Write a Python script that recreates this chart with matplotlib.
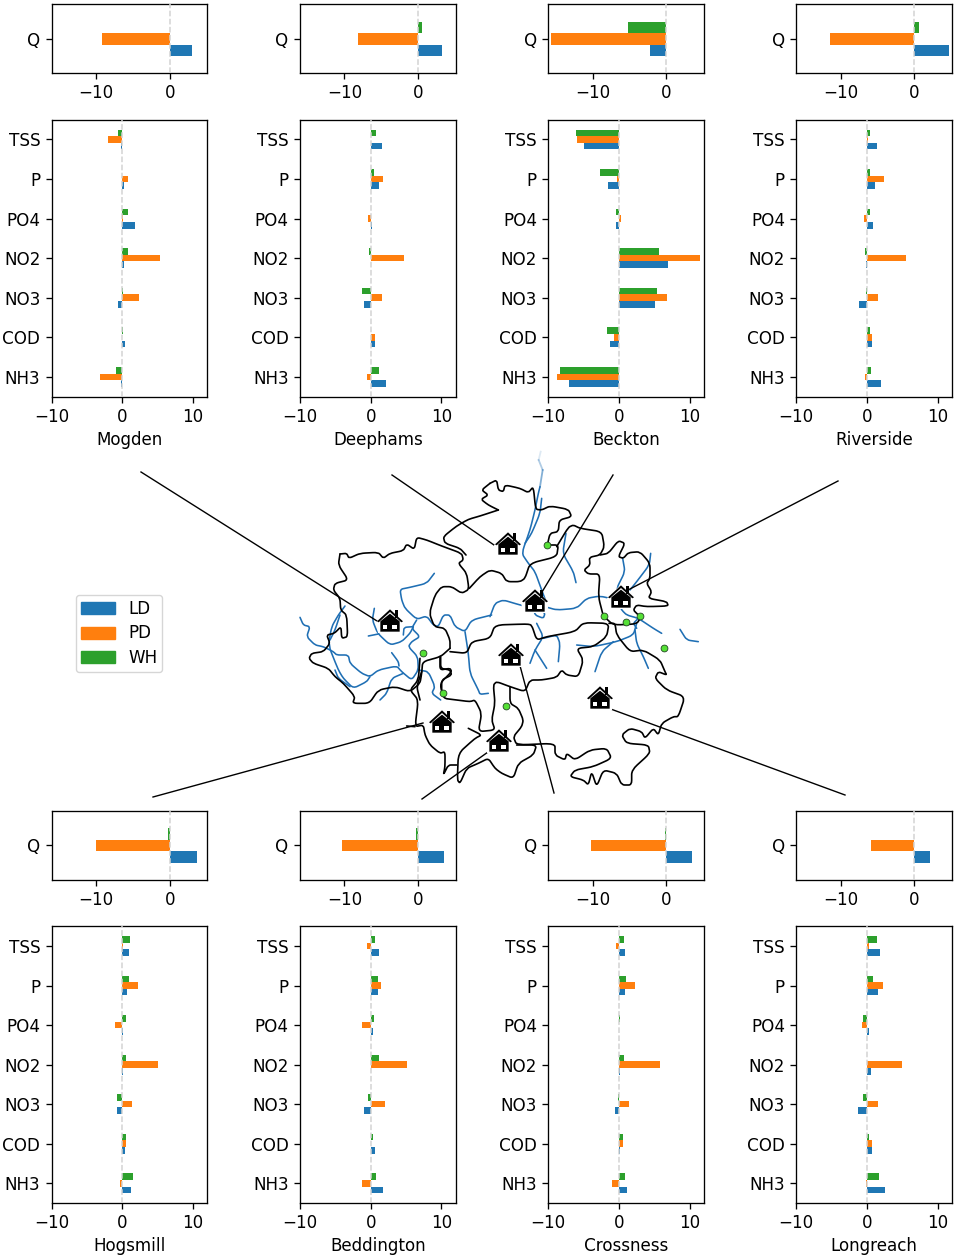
import matplotlib
matplotlib.use('Agg')
import matplotlib.pyplot as plt
from matplotlib.patches import Patch, PathPatch
from matplotlib.path import Path

plt.rcParams['font.size'] = 12.1
plt.rcParams['axes.linewidth'] = 0.95
plt.rcParams['axes.labelpad'] = 3.6
plt.rcParams['xtick.major.width'] = 0.95
plt.rcParams['ytick.major.width'] = 0.95
plt.rcParams['xtick.major.size'] = 4.1
plt.rcParams['ytick.major.size'] = 4.1
plt.rcParams['xtick.major.pad'] = 3.8
plt.rcParams['ytick.major.pad'] = 4.1

species = ['NH3', 'COD', 'NO3', 'NO2', 'PO4', 'P', 'TSS']
scenarios = ['LD', 'PD', 'WH']
colors = ['#1f77b4', '#ff7f0e', '#2ca02c']

# each q list is LD, PD, WH; the others follow the species order
mogden_q = [3.0, -9.2, 0.0]
mogden_ld = [-0.2, 0.4, -0.65, 0.2, 1.75, 0.25, -0.2]
mogden_pd = [-3.2, 0.0, 2.3, 5.3, 0.05, 0.75, -2.0]
mogden_wh = [-0.85, 0.05, 0.05, 0.85, 0.85, 0.0, -0.6]

deephams_q = [3.2, -8.1, 0.45]
deephams_ld = [2.1, 0.55, -0.95, 0.1, 0.2, 1.1, 1.6]
deephams_pd = [-0.55, 0.55, 1.55, 4.65, -0.4, 1.75, 0.05]
deephams_wh = [1.2, 0.05, -1.2, -0.2, 0.0, 0.5, 0.75]

beckton_q = [-2.3, -15.7, -5.2]
beckton_ld = [-7.1, -1.2, 5.15, 7.0, -0.4, -1.5, -5.0]
beckton_pd = [-8.75, -0.65, 6.8, 11.45, 0.25, -0.35, -6.0]
beckton_wh = [-8.3, -1.75, 5.35, 5.6, -0.45, -2.7, -6.15]

riverside_q = [4.65, -11.5, 0.65]
riverside_ld = [1.95, 0.7, -1.2, -0.1, 0.8, 1.1, 1.35]
riverside_pd = [-0.3, 0.75, 1.55, 5.45, -0.4, 2.35, 0.2]
riverside_wh = [0.5, 0.4, -0.1, -0.35, 0.4, 0.4, 0.4]

hogsmill_q = [3.65, -9.95, -0.3]
hogsmill_ld = [1.25, 0.3, -0.7, 0.05, 0.05, 0.7, 0.9]
hogsmill_pd = [-0.3, 0.45, 1.4, 5.0, -1.05, 2.2, 0.15]
hogsmill_wh = [1.45, 0.55, -0.8, 0.45, 0.55, 1.0, 1.1]

beddington_q = [3.5, -10.35, -0.3]
beddington_ld = [1.7, 0.55, -0.9, 0.05, 0.3, 1.0, 1.2]
beddington_pd = [-1.2, 0.05, 1.95, 5.1, -1.2, 1.4, -0.5]
beddington_wh = [0.7, 0.35, -0.35, 1.1, 0.4, 1.0, 0.55]

crossness_q = [3.5, -10.2, -0.2]
crossness_ld = [1.15, 0.2, -0.6, 0.2, 0.0, 0.8, 0.9]
crossness_pd = [-0.95, 0.6, 1.4, 5.8, 0.05, 2.25, -0.4]
crossness_wh = [0.9, 0.5, -0.2, 0.65, 0.15, 1.0, 0.75]

longreach_q = [2.05, -5.85, -0.05]
longreach_ld = [2.55, 0.7, -1.3, 0.5, 0.3, 1.5, 1.9]
longreach_pd = [-0.15, 0.75, 1.55, 5.0, -0.65, 2.25, 0.3]
longreach_wh = [1.75, 0.25, -0.5, 0.05, -0.55, 0.8, 1.35]

sites = [
    ('Mogden', mogden_q, mogden_ld, mogden_pd, mogden_wh),
    ('Deephams', deephams_q, deephams_ld, deephams_pd, deephams_wh),
    ('Beckton', beckton_q, beckton_ld, beckton_pd, beckton_wh),
    ('Riverside', riverside_q, riverside_ld, riverside_pd, riverside_wh),
    ('Hogsmill', hogsmill_q, hogsmill_ld, hogsmill_pd, hogsmill_wh),
    ('Beddington', beddington_q, beddington_ld, beddington_pd, beddington_wh),
    ('Crossness', crossness_q, crossness_ld, crossness_pd, crossness_wh),
    ('Longreach', longreach_q, longreach_ld, longreach_pd, longreach_wh),
]

west_origin = (295, 530)
north_origin = (490, 450)
south_origin = (410, 620)

west_boundaries = [
    [(135,72),(155,70),(162,85),(195,70),(250,67),(265,85),(285,70),(325,62),(335,42),(358,58),(365,22),(395,30),(440,48),(500,70),(505,90),(490,100),(515,130),(522,178),(500,190),(470,170),(440,170),(420,195),(403,250),(418,290),(450,295),(465,330),(465,355)],
    [(135,72),(130,105),(160,150),(120,160),(115,180),(135,205),(137,240),(155,255),(158,320),(140,325),(138,290),(118,310),(95,315),(105,340),(85,365),(50,370),(42,385),(55,400),(100,415),(120,440),(145,460),(180,500),(173,520),(223,520),(250,480),(300,470),(345,485),(375,460),(380,430),(383,395),(437,380),(465,355)],
    [(437,380),(437,415),(465,420),(470,435),(440,450),(440,480)],
    [(380,425),(365,470),(375,510)],
]
west_rivers = [
    [(15,262),(25,285),(45,290),(35,320),(60,345),(85,350),(115,365),(125,375),(160,375),(165,400),(200,430),(225,440),(250,420),(305,408),(320,425),(350,450),(370,420),(368,380),(340,350),(350,335),(375,320),(350,295),(365,270)],
    [(238,235),(232,270),(248,310),(285,345),(320,335),(345,310),(355,290)],
    [(220,318),(250,312)],
    [(418,130),(395,160),(345,172),(315,178),(320,210),(330,235),(365,268),(395,258),(415,285),(430,290),(445,255),(465,255),(480,290),(510,305),(530,270),(590,255)],
    [(325,315),(327,292),(355,290)],
    [(150,228),(130,255),(110,290),(100,345),(130,420),(145,445),(175,475),(215,455),(225,440)],
    [(135,255),(120,300),(105,330)],
    [(120,420),(130,445),(165,470)],
    [(290,368),(310,395),(312,408)],
    [(370,420),(400,425),(420,470),(410,490),(437,510)],
    [(325,430),(290,445),(275,490),(255,510)],
    [(510,305),(520,370),(525,430),(550,480),(555,493),(580,490)],
]

north_boundaries = [
    [(25,180),(-30,198),(-65,208),(-100,228),(-140,260),(-135,280),(-90,295),(-72,315)],
    [(0,100),(20,90),(25,120),(40,125),(45,105),(90,115),(115,128),(130,110),(137,178),(155,180),(180,168),(235,178),(245,200),(208,210),(205,245),(180,250),(172,285),(205,285),(200,320),(120,340),(105,385),(90,395),(50,395),(35,370),(0,360),(-30,380),(-62,415)],
    [(0,100),(-25,120),(-5,135),(-27,148),(-5,165),(25,180)],
    [(200,290),(235,232),(250,225),(270,235),(335,245),(343,290),(330,315),(298,322),(300,345),(282,360),(295,372),(330,372),(325,440),(340,498)],
    [(330,315),(355,310),(385,272),(405,280),(385,320),(400,325),(415,308),(450,305),(480,340),(480,385),(470,400),(485,425),(475,445),(530,455),(535,468),(470,470),(440,465),(430,480),(445,495)],
    [(340,498),(370,525),(440,522),(455,498)],
]
north_rivers = [
    [(150,110),(145,130),(135,180),(120,240),(95,310),(115,340),(135,365),(155,420),(170,460)],
    [(155,145),(150,190),(125,250),(105,280)],
    [(228,250),(218,310),(250,365),(258,398)],
    [(0,500),(15,460),(40,450),(80,462),(110,470),(165,470),(200,480),(260,475),(290,445),(330,438),(380,450),(395,480),(410,495),(445,505),(490,535),(515,550)],
    [(130,470),(135,495),(160,505),(165,490),(150,480)],
    [(398,325),(405,365),(380,415),(385,440)],
    [(482,310),(478,345),(440,395),(420,420)],
    [(445,505),(430,520),(440,535)],
]
river_head = [(152,5),(146,30),(158,60),(150,110)]

south_boundaries = [
    [(120,95),(170,100),(185,65),(240,55),(255,15),(350,12),(365,15),(380,60),(410,50),(495,35),(520,8),(597,10),(590,50),(550,80),(500,85),(520,120),(505,170),(470,165),(455,150),(440,172),(395,180),(360,180),(345,215),(300,200),(260,185),(250,195),(255,250),(245,300),(255,330),(205,335),(215,280),(195,240),(180,245),(140,240),(100,235),(90,190),(125,155),(120,145),(90,150),(90,112)],
    [(300,200),(300,250),(325,265),(340,300),(335,320),(310,350),(320,375),(435,370),(435,405),(465,420),(470,400),(495,420),(540,390),(590,385),(605,415),(550,440),(495,450),(480,470),(520,480),(535,495),(545,455),(560,500),(580,450),(620,460),(635,495),(665,495),(665,450),(720,400),(715,375),(650,370),(635,345),(660,325),(695,335),(705,355),(730,325),(745,345),(755,310),(790,290),(805,290),(825,230),(770,210),(735,175),(745,155),(770,165),(765,155),(750,120),(700,90),(660,95),(620,45),(615,10),(597,10)],
    [(30,115),(25,180),(0,210),(25,240),(15,320),(40,315),(45,345),(60,375),(90,400),(105,395),(105,440),(100,465),(115,435),(140,435)],
    [(175,325),(215,345),(195,355),(145,400),(142,480),(150,490),(170,445),(205,430),(235,415),(255,445),(275,460),(310,475),(325,430),(370,405),(380,375),(320,375)],
    [(15,320),(-10,318)],
]
south_rivers = [
    [(380,10),(400,50),(375,90),(360,130)],
    [(375,90),(410,145)],
    [(400,55),(440,45),(450,70),(445,125)],
    [(500,75),(550,80),(620,65),(670,45),(680,10)],
    [(610,65),(575,95),(555,155)],
    [(675,30),(680,70),(700,110),(715,145)],
    [(810,28),(830,60),(865,65)],
]

# remaining marks in image pixels
stations = [(547,545),(423,653),(443,693),(506,706),(604,616),(626,622),(640,616),(664,648)]
houses = [(390,621),(508,544),(535,601),(621,597),(511,655),(600,698),(442,722),(499,741)]
leaders = [
    [(141,472),(377,621)],
    [(392,475),(494,545)],
    [(613,475),(542,592)],
    [(838,481),(628,590)],
    [(423,723),(153,797)],
    [(488,752),(422,799)],
    [(519,662),(554,793)],
    [(608,708),(845,795)],
]

W, H = 957, 1258


def px_axes(fig, left, top, right, bottom):
    return fig.add_axes([left / W, 1 - bottom / H, (right - left) / W, (bottom - top) / H])


def to_image(origin, points):
    return [(origin[0] + p[0] / 3, origin[1] + p[1] / 3) for p in points]


def draw_outline(ax, points, color, width, zorder=4):
    # only the corners of the traced lines get rounded
    verts = [points[0]]
    codes = [Path.MOVETO]
    for k in range(1, len(points) - 1):
        x, y = points[k]
        before = (x + 0.3 * (points[k - 1][0] - x), y + 0.3 * (points[k - 1][1] - y))
        after = (x + 0.3 * (points[k + 1][0] - x), y + 0.3 * (points[k + 1][1] - y))
        verts += [before, (x, y), after]
        codes += [Path.LINETO, Path.CURVE3, Path.CURVE3]
    verts.append(points[-1])
    codes.append(Path.LINETO)
    ax.add_patch(PathPatch(Path(verts, codes), fill=False, edgecolor=color, linewidth=width,
                           capstyle='round', joinstyle='round', zorder=zorder))


def draw_bars(ax, labels, values, xlim):
    ax.axvline(0, color='lightgrey', linestyle='--', linewidth=1.1, zorder=3)
    for i, vals in enumerate(values):
        pos = [k - 0.25 + (i + 0.5) * 0.5 / 3 for k in range(len(labels))]
        ax.barh(pos, vals, height=0.5 / 3, color=colors[i], zorder=2)
    ax.set_yticks(range(len(labels)))
    ax.set_yticklabels(labels)
    ax.set_xlim(xlim)
    ax.set_ylim(-0.5, len(labels) - 0.5)


def draw_house(ax, hx, hy):
    def fill(points, color):
        pts = [(hx + p[0] / 3, hy + p[1] / 3) for p in points]
        ax.fill([p[0] for p in pts], [p[1] for p in pts], color=color, linewidth=0, zorder=6)
    fill([(-42, 4), (0, -38), (42, 4), (36, 36), (-36, 36)], 'white')
    fill([(15, -33), (23, -33), (23, -10), (15, -10)], 'black')
    fill([(-39, 1), (0, -35), (39, 1), (34, 4), (0, -27), (-34, 4)], 'black')
    fill([(-29, 1), (0, -22), (29, 1), (29, 32), (-29, 32)], 'black')
    fill([(-22, 11), (-8, 11), (-8, 25), (-22, 25)], 'white')
    fill([(6, 11), (20, 11), (20, 25), (6, 25)], 'white')


fig = plt.figure(figsize=(W / 100, H / 100), dpi=100)

# full page axes in image pixels for the map
map_ax = fig.add_axes([0, 0, 1, 1], zorder=0)
map_ax.set_xlim(0, W)
map_ax.set_ylim(H, 0)
map_ax.axis('off')

river_blue = '#1f6fb4'
for origin, lines in [(west_origin, west_rivers), (north_origin, north_rivers), (south_origin, south_rivers)]:
    for line in lines:
        draw_outline(map_ax, to_image(origin, line), river_blue, 1.15, zorder=3)
head = to_image(north_origin, river_head)
for j in range(len(head) - 1):
    map_ax.plot([head[j][0], head[j + 1][0]], [head[j][1], head[j + 1][1]],
                color=river_blue, linewidth=1.3, alpha=0.15 + 0.2 * j, zorder=3)
for origin, lines in [(west_origin, west_boundaries), (north_origin, north_boundaries), (south_origin, south_boundaries)]:
    for line in lines:
        draw_outline(map_ax, to_image(origin, line), 'black', 1.2)
for line in leaders:
    map_ax.plot([line[0][0], line[1][0]], [line[0][1], line[1][1]], color='black', linewidth=1.0, zorder=5)
map_ax.scatter([s[0] for s in stations], [s[1] for s in stations], s=24, color='#55e036',
               edgecolor='#224422', linewidth=0.6, zorder=7)
for hx, hy in houses:
    draw_house(map_ax, hx, hy)

col_left = [51.7, 300.1, 548.3, 796.3]
col_width = 155.5
rows = [(4.3, 73.3, 119.7, 396.7), (810.7, 880, 926.3, 1203)]

for n, (name, q, ld, pd_, wh) in enumerate(sites):
    left = col_left[n % 4]
    q_top, q_bot, main_top, main_bot = rows[n // 4]

    ax_q = px_axes(fig, left, q_top, left + col_width, q_bot)
    draw_bars(ax_q, ['Q'], [[q[0]], [q[1]], [q[2]]], (-16, 5.05))
    ax_q.set_xticks([-10, 0])

    ax = px_axes(fig, left, main_top, left + col_width, main_bot)
    draw_bars(ax, species, [ld, pd_, wh], (-10, 12))
    ax.set_xticks([-10, 0, 10])
    ax.set_xlabel(name)

handles = [Patch(color=c, label=s) for c, s in zip(colors, scenarios)]
fig.legend(handles=handles, loc='center', bbox_to_anchor=(119 / W, 1 - 633.5 / H),
           labelspacing=0.38, borderpad=0.32)

fig.savefig('out.png', dpi=100)
plt.close(fig)
